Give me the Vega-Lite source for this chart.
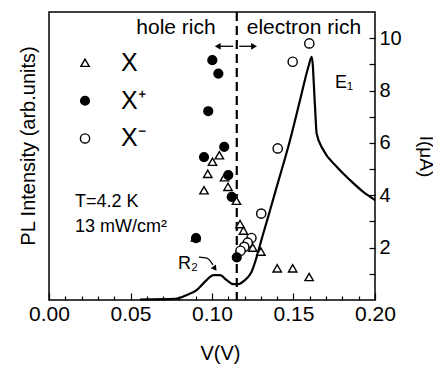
{
  "$schema": "https://vega.github.io/schema/vega-lite/v6.json",
  "width": 326,
  "height": 288,
  "autosize": {"type": "none"},
  "padding": {"left": 49, "top": 12, "right": 58, "bottom": 65},
  "background": "white",
  "title": {"text": "PL Intensity (arb.units)", "orient": "left", "anchor": "middle", "fontSize": 20, "fontWeight": "normal", "font": "Liberation Sans", "color": "black", "offset": -10, "dx": 10},
  "config": {
    "view": {"stroke": "black", "strokeWidth": 1.5},
    "font": "Liberation Sans",
    "text": {"font": "Liberation Sans", "color": "black"},
    "axis": {"labelFont": "Liberation Sans", "titleFont": "Liberation Sans", "labelColor": "black", "titleColor": "black", "tickColor": "black", "titleFontWeight": "normal", "grid": false, "domain": false, "tickWidth": 1.2}
  },
  "datasets": {
    "curve": [
      {"V": 0.0558, "y": 0.02}, {"V": 0.0773, "y": 0.04}, {"V": 0.0845, "y": 0.19}, {"V": 0.0906, "y": 0.38},
      {"V": 0.0967, "y": 0.76}, {"V": 0.1008, "y": 0.95}, {"V": 0.1049, "y": 0.95}, {"V": 0.109, "y": 0.76},
      {"V": 0.1131, "y": 0.61}, {"V": 0.1161, "y": 0.61}, {"V": 0.1202, "y": 0.76}, {"V": 0.1239, "y": 1.03},
      {"V": 0.1315, "y": 2.55}, {"V": 0.1397, "y": 4.32}, {"V": 0.1479, "y": 6.11}, {"V": 0.154, "y": 7.63},
      {"V": 0.1591, "y": 8.9}, {"V": 0.1612, "y": 9.29}, {"V": 0.1632, "y": 7.38}, {"V": 0.1642, "y": 6.36},
      {"V": 0.1683, "y": 5.73}, {"V": 0.1765, "y": 5.09}, {"V": 0.1847, "y": 4.58}, {"V": 0.1928, "y": 4.13},
      {"V": 0.2, "y": 3.82}
    ],
    "points": [
      {"series": "X", "V": 0.1045, "y": 5.53}, {"series": "X", "V": 0.1003, "y": 5.28}, {"series": "X", "V": 0.0974, "y": 4.82},
      {"series": "X", "V": 0.0951, "y": 4.19}, {"series": "X", "V": 0.1077, "y": 4.69}, {"series": "X", "V": 0.1098, "y": 4.32},
      {"series": "X", "V": 0.115, "y": 3.79}, {"series": "X", "V": 0.1172, "y": 2.9}, {"series": "X", "V": 0.1193, "y": 2.65},
      {"series": "X", "V": 0.125, "y": 2.0}, {"series": "X", "V": 0.13, "y": 1.85}, {"series": "X", "V": 0.14, "y": 1.21},
      {"series": "X", "V": 0.1495, "y": 1.21}, {"series": "X", "V": 0.1596, "y": 0.88}, {"series": "X", "V": 0.0899, "y": 2.39},
      {"series": "X-", "V": 0.1597, "y": 9.8}, {"series": "X-", "V": 0.1495, "y": 9.1}, {"series": "X-", "V": 0.1403, "y": 5.79},
      {"series": "X-", "V": 0.1302, "y": 3.3}, {"series": "X-", "V": 0.1242, "y": 2.37}, {"series": "X-", "V": 0.1219, "y": 2.19},
      {"series": "X-", "V": 0.1198, "y": 2.03}, {"series": "X-", "V": 0.1175, "y": 1.88},
      {"series": "X+", "V": 0.1002, "y": 9.16}, {"series": "X+", "V": 0.1039, "y": 8.65}, {"series": "X+", "V": 0.0977, "y": 7.21},
      {"series": "X+", "V": 0.1075, "y": 5.85}, {"series": "X+", "V": 0.0951, "y": 5.46}, {"series": "X+", "V": 0.11, "y": 4.77},
      {"series": "X+", "V": 0.1121, "y": 3.94}, {"series": "X+", "V": 0.0902, "y": 2.36}, {"series": "X+", "V": 0.1152, "y": 1.63}
    ],
    "legend": [
      {"series": "X", "V": 0.0221, "y": 9.06, "label": "X"},
      {"series": "X+", "V": 0.0221, "y": 7.61, "label": "X⁺"},
      {"series": "X-", "V": 0.0221, "y": 6.17, "label": "X⁻"}
    ],
    "labels": [
      {"kind": "region", "V": 0.0779, "y": 10.38, "label": "hole rich"},
      {"kind": "region", "V": 0.1564, "y": 10.38, "label": "electron rich"},
      {"kind": "cond", "V": 0.016, "y": 3.75, "label": "T=4.2 K"},
      {"kind": "cond", "V": 0.016, "y": 2.8, "label": "13 mW/cm²"},
      {"kind": "cond", "V": 0.0791, "y": 1.37, "label": "R₂"},
      {"kind": "cond", "V": 0.1755, "y": 8.3, "label": "E₁"}
    ],
    "arrows": [
      {"dir": "left", "V": 0.113, "V2": 0.1035, "y": 9.69},
      {"dir": "right", "V": 0.1167, "V2": 0.1258, "y": 9.69}
    ],
    "r2arrow": [
      {"V": 0.092, "y": 1.64}, {"V": 0.0969, "y": 1.6}, {"V": 0.1006, "y": 1.34}
    ],
    "r2head": [{"V": 0.1018, "y": 1.2}],
    "boundary": [{"V": 0.1152}]
  },
  "encoding": {
    "x": {"field": "V", "type": "quantitative", "scale": {"domain": [0, 0.2], "nice": false, "zero": false},
      "axis": {"orient": "bottom", "values": [0, 0.01, 0.02, 0.03, 0.04, 0.05, 0.06, 0.07, 0.08, 0.09, 0.1, 0.11, 0.12, 0.13, 0.14, 0.15, 0.16, 0.17, 0.18, 0.19, 0.2],
        "labelExpr": "round(datum.value*100) % 5 === 0 ? format(datum.value, '.2f') : ''",
        "tickSize": {"condition": {"test": "round(datum.value*100) % 5 === 0", "value": -7}, "value": -4},
        "labelFontSize": 21, "labelPadding": 10, "labelFlush": false, "labelOverlap": false,
        "title": "V(V)", "titleFontSize": 20, "titlePadding": 16, "titleX": 171}},
    "y": {"field": "y", "type": "quantitative", "scale": {"domain": [0, 11], "nice": false, "zero": false},
      "axis": {"orient": "right", "values": [1, 2, 3, 4, 5, 6, 7, 8, 9, 10],
        "labelExpr": "datum.value % 2 === 0 ? datum.label : ''",
        "tickSize": -6,
        "labelFontSize": 20, "labelPadding": 10, "labelFlush": false, "labelOverlap": false,
        "title": "I(μA)", "titleFontSize": 19, "titlePadding": 14}}
  },
  "layer": [
    {
      "data": {"name": "curve"},
      "mark": {"type": "line", "color": "black", "strokeWidth": 2.2, "interpolate": "monotone"}
    },
    {
      "data": {"name": "boundary"},
      "mark": {"type": "rule", "color": "black", "strokeWidth": 2.2, "strokeDash": [9, 5]},
      "encoding": {"y": {"value": 0}, "y2": {"value": 288}}
    },
    {
      "data": {"name": "points"},
      "mark": {"type": "point", "filled": true, "stroke": "black", "strokeWidth": 1.4, "opacity": 1},
      "encoding": {
        "shape": {"field": "series", "type": "nominal", "scale": {"domain": ["X", "X+", "X-"], "range": ["triangle-up", "circle", "circle"]}, "legend": null},
        "fill": {"field": "series", "type": "nominal", "scale": {"domain": ["X", "X+", "X-"], "range": ["white", "black", "white"]}, "legend": null},
        "size": {"field": "series", "type": "nominal", "scale": {"domain": ["X", "X+", "X-"], "range": [70, 85, 60]}, "legend": null}
      }
    },
    {
      "data": {"name": "legend"},
      "mark": {"type": "point", "filled": true, "stroke": "black", "strokeWidth": 1.4, "opacity": 1},
      "encoding": {
        "shape": {"field": "series", "type": "nominal", "scale": {"domain": ["X", "X+", "X-"], "range": ["triangle-up", "circle", "circle"]}, "legend": null},
        "fill": {"field": "series", "type": "nominal", "scale": {"domain": ["X", "X+", "X-"], "range": ["white", "black", "white"]}, "legend": null},
        "size": {"field": "series", "type": "nominal", "scale": {"domain": ["X", "X+", "X-"], "range": [70, 85, 60]}, "legend": null}
      }
    },
    {
      "data": {"name": "legend"},
      "mark": {"type": "text", "fontSize": 25, "align": "left", "baseline": "middle", "dx": 36},
      "encoding": {"text": {"field": "label"}}
    },
    {
      "data": {"name": "labels"},
      "transform": [{"filter": "datum.kind === 'region'"}],
      "mark": {"type": "text", "fontSize": 21, "align": "center", "baseline": "middle"},
      "encoding": {"text": {"field": "label"}}
    },
    {
      "data": {"name": "labels"},
      "transform": [{"filter": "datum.kind === 'cond'"}],
      "mark": {"type": "text", "fontSize": 18, "align": "left", "baseline": "middle"},
      "encoding": {"text": {"field": "label"}}
    },
    {
      "data": {"name": "arrows"},
      "mark": {"type": "rule", "color": "black", "strokeWidth": 1.3},
      "encoding": {"x2": {"field": "V2"}}
    },
    {
      "data": {"name": "arrows"},
      "transform": [{"filter": "datum.dir === 'left'"}],
      "mark": {"type": "point", "shape": "triangle-left", "filled": true, "color": "black", "size": 45, "opacity": 1},
      "encoding": {"x": {"field": "V2", "type": "quantitative"}}
    },
    {
      "data": {"name": "arrows"},
      "transform": [{"filter": "datum.dir === 'right'"}],
      "mark": {"type": "point", "shape": "triangle-right", "filled": true, "color": "black", "size": 45, "opacity": 1},
      "encoding": {"x": {"field": "V2", "type": "quantitative"}}
    },
    {
      "data": {"name": "r2arrow"},
      "mark": {"type": "line", "color": "black", "strokeWidth": 1.3, "interpolate": "monotone"}
    },
    {
      "data": {"name": "r2head"},
      "mark": {"type": "point", "shape": "triangle-down", "filled": true, "color": "black", "size": 40, "opacity": 1, "angle": -35}
    }
  ]
}
